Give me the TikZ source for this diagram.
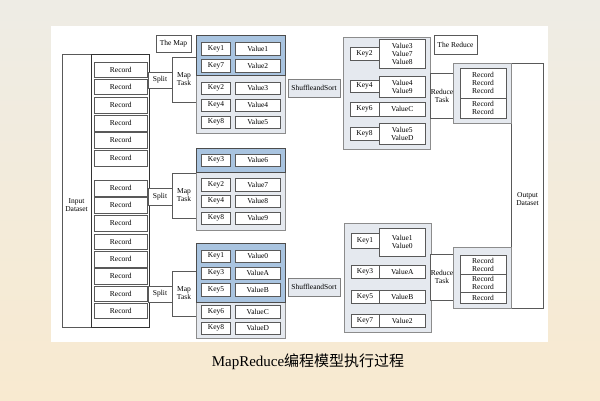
\documentclass[tikz,border=0pt]{standalone}
\usepackage{fontspec}
\setmainfont{Liberation Serif}
\newfontfamily\cjk{Noto Sans CJK SC}
\usetikzlibrary{shadows}
\definecolor{mapblue}{HTML}{A9C4E0}
\definecolor{panelgray}{HTML}{E5E9EF}
\definecolor{bgtop}{HTML}{EEECE5}
\definecolor{bgbot}{HTML}{F8EAD0}
\newcommand\fs{\fontsize{7.5}{8}\selectfont}
\newcommand\mybox[7]{\node[#6, minimum width={(#4-#2)*1pt}, minimum height={(#5-#3)*1pt}] (#1) at ({(#2+#4)/2},{(#3+#5)/2}) {#7};}
\tikzset{
  base/.style={rectangle, inner sep=0pt, outer sep=0pt, font=\fs, align=center, line width=0.5pt},
  plain/.style={base, draw=black!65, fill=white},
  rec/.style={plain, drop shadow={shadow xshift=0.5pt, shadow yshift=-0.8pt, fill=black!70, opacity=1}},
  kv/.style={plain, drop shadow={shadow xshift=0.6pt, shadow yshift=-0.6pt, fill=black!70, opacity=1}},
  panel/.style={base, draw=black!45, fill=panelgray, line width=0.8pt},
  bluepanel/.style={base, draw=black!70, fill=mapblue, line width=0.8pt},
  grayplain/.style={base, draw=black!50, fill=panelgray},
  txt/.style={inner sep=0pt, font=\fs, align=center}
}
\begin{document}
\begin{tikzpicture}[x=1pt,y=-1pt]
\useasboundingbox (0,0) rectangle (600,400);
\shade[top color=bgtop, bottom color=bgbot] (0,0) rectangle (600,400);
\fill[white] (51,26) rectangle (548,342);

% input dataset
\mybox{inbox}{62}{54}{91}{327}{plain}{}
\node[txt] (inlabel) at (76.5,205) {Input\\Dataset};
\mybox{reccol}{91}{54}{149}{327}{plain, draw=black!80, line width=0.7pt}{}
\mybox{r1}{94.5}{62}{147}{77}{rec}{Record}
\mybox{r2}{94.5}{79}{147}{94}{rec}{Record}
\mybox{r3}{94.5}{97}{147}{113}{rec}{Record}
\mybox{r4}{94.5}{115}{147}{131}{rec}{Record}
\mybox{r5}{94.5}{132}{147}{148}{rec}{Record}
\mybox{r6}{94.5}{150}{147}{166}{rec}{Record}
\mybox{r7}{94.5}{180}{147}{196}{rec}{Record}
\mybox{r8}{94.5}{197}{147}{213}{rec}{Record}
\mybox{r9}{94.5}{215}{147}{231}{rec}{Record}
\mybox{r10}{94.5}{234}{147}{249}{rec}{Record}
\mybox{r11}{94.5}{251}{147}{267}{rec}{Record}
\mybox{r12}{94.5}{268}{147}{284}{rec}{Record}
\mybox{r13}{94.5}{286}{147}{301}{rec}{Record}
\mybox{r14}{94.5}{303}{147}{318}{rec}{Record}

% splits and map tasks
\mybox{s1}{148}{72}{172}{88}{plain}{Split}
\mybox{s2}{148}{188}{172}{205}{plain}{Split}
\mybox{s3}{148}{286}{172}{302}{plain}{Split}
\mybox{mt1}{172}{57}{196}{102}{plain}{Map\\Task}
\mybox{mt2}{172}{173}{196}{218}{plain}{Map\\Task}
\mybox{mt3}{172}{271}{196}{316}{plain}{Map\\Task}
\mybox{themap}{156}{35}{191}{52}{plain}{The Map}

% map panel 1
\mybox{mp1}{196}{35}{285.5}{133}{panel}{}
\mybox{mb1}{196}{35}{285.5}{75}{bluepanel}{}
\mybox{k11}{201.7}{42}{230.4}{55}{kv}{Key1}
\mybox{v11}{235}{42}{280.5}{55}{kv}{Value1}
\mybox{k12}{201.7}{59}{230.4}{72}{kv}{Key7}
\mybox{v12}{235}{59}{280.5}{72}{kv}{Value2}
\mybox{k13}{201.7}{82}{230.4}{94}{kv}{Key2}
\mybox{v13}{235}{82}{280.5}{94}{kv}{Value3}
\mybox{k14}{201.7}{99}{230.4}{111}{kv}{Key4}
\mybox{v14}{235}{99}{280.5}{111}{kv}{Value4}
\mybox{k15}{201.7}{116}{230.4}{128}{kv}{Key8}
\mybox{v15}{235}{116}{280.5}{128}{kv}{Value5}

% map panel 2
\mybox{mp2}{196}{148}{285.5}{230}{panel}{}
\mybox{mb2}{196}{148}{285.5}{172}{bluepanel}{}
\mybox{k21}{201.7}{154}{230.4}{166}{kv}{Key3}
\mybox{v21}{235}{154}{280.5}{166}{kv}{Value6}
\mybox{k22}{201.7}{178}{230.4}{191}{kv}{Key2}
\mybox{v22}{235}{178}{280.5}{191}{kv}{Value7}
\mybox{k23}{201.7}{195}{230.4}{207}{kv}{Key4}
\mybox{v23}{235}{195}{280.5}{207}{kv}{Value8}
\mybox{k24}{201.7}{212}{230.4}{224}{kv}{Key8}
\mybox{v24}{235}{212}{280.5}{224}{kv}{Value9}

% map panel 3
\mybox{mp3}{196}{243}{285.5}{338}{panel}{}
\mybox{mb3}{196}{243}{285.5}{302}{bluepanel}{}
\mybox{k31}{201.7}{250}{230.4}{262}{kv}{Key1}
\mybox{v31}{235}{250}{280.5}{262}{kv}{Value0}
\mybox{k32}{201.7}{267}{230.4}{279}{kv}{Key3}
\mybox{v32}{235}{267}{280.5}{279}{kv}{ValueA}
\mybox{k33}{201.7}{283}{230.4}{296}{kv}{Key5}
\mybox{v33}{235}{283}{280.5}{296}{kv}{ValueB}
\mybox{k34}{201.7}{305}{230.4}{318}{kv}{Key6}
\mybox{v34}{235}{305}{280.5}{318}{kv}{ValueC}
\mybox{k35}{201.7}{322}{230.4}{334}{kv}{Key8}
\mybox{v35}{235}{322}{280.5}{334}{kv}{ValueD}

% shuffle
\mybox{sh1}{288}{79}{340}{97}{grayplain}{ShuffleandSort}
\mybox{sh2}{288}{278}{340}{296}{grayplain}{ShuffleandSort}

% reduce panel 1
\mybox{rp1}{343}{37}{430.5}{149}{panel}{}
\mybox{rk1}{350}{47}{379}{60}{kv}{Key2}
\mybox{rv1}{379}{39}{425.5}{68}{kv}{Value3\\Value7\\Value8}
\mybox{rk2}{350}{80}{379}{92}{kv}{Key4}
\mybox{rv2}{379}{76}{425.5}{97}{kv}{Value4\\Value9}
\mybox{rk3}{350}{102}{379}{116}{kv}{Key6}
\mybox{rv3}{379}{102}{425.5}{116}{kv}{ValueC}
\mybox{rk4}{350}{127}{379}{140}{kv}{Key8}
\mybox{rv4}{379}{123}{425.5}{144}{kv}{Value5\\ValueD}
\mybox{thereduce}{434}{35}{477}{54}{plain}{The Reduce}

% reduce panel 2
\mybox{rp2}{344}{223}{431}{332}{panel}{}
\mybox{rk5}{351}{233}{379}{248}{kv}{Key1}
\mybox{rv5}{379}{228}{425.5}{256}{kv}{Value1\\Value0}
\mybox{rk6}{351}{265}{379}{278}{kv}{Key3}
\mybox{rv6}{379}{265}{425.5}{278}{kv}{ValueA}
\mybox{rk7}{351}{290}{379}{303}{kv}{Key5}
\mybox{rv7}{379}{290}{425.5}{303}{kv}{ValueB}
\mybox{rk8}{351}{314}{379}{327}{kv}{Key7}
\mybox{rv8}{379}{314}{425.5}{327}{kv}{Value2}

% reduce tasks
\mybox{rt1}{430.5}{73}{453.5}{118}{plain}{Reduce\\Task}
\mybox{rt2}{430.5}{254}{453.5}{300}{plain}{Reduce\\Task}

% output dataset
\mybox{outbox}{511.7}{63}{543.4}{308}{plain}{}
\node[txt] (outlabel) at (527.5,199) {Output\\Dataset};

% reduce outputs
\mybox{ro1}{453.5}{63}{511.7}{123}{panel}{}
\mybox{ro11}{460}{68}{506}{98}{plain}{Record\\Record\\Record}
\mybox{ro12}{460}{98}{506}{118}{plain}{Record\\Record}
\mybox{ro2}{453.5}{247}{511.7}{308}{panel}{}
\mybox{ro21}{460}{255}{506}{274}{plain}{Record\\Record}
\mybox{ro22}{460}{274}{506}{292}{plain}{Record\\Record}
\mybox{ro23}{460}{292}{506}{303}{plain}{Record}

% caption
\node[inner sep=0pt, font=\fontsize{15}{17}\selectfont] (caption) at (308,362) {MapReduce{\cjk 编程模型执行过程}};
\end{tikzpicture}
\end{document}
